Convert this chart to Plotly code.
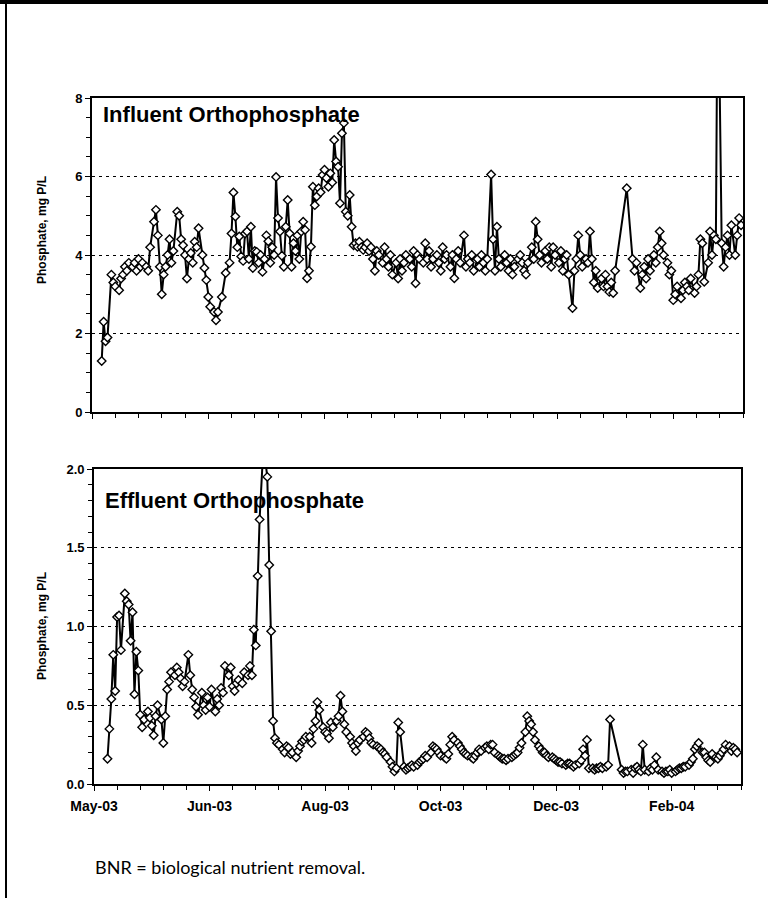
import plotly.graph_objects as go
import pandas as pd

N = None
START_DATE = "2003-05-01"
AXIS_END = "2004-04-01"

# Influent orthophosphate (mg P/L): one value per calendar day from START_DATE, 10 per row (None = no sample)
influent_rows = [
    [N, N, N, N, N, 1.3, 2.3, 1.8, 1.9, N],
    [3.5, 3.3, 3.2, N, 3.1, 3.4, 3.5, 3.7, 3.6, 3.8],
    [N, 3.7, 3.8, 3.6, 3.9, 3.7, 3.8, N, 3.7, 3.6],
    [4.2, N, 4.85, 5.15, 4.5, 3.7, 3.0, 3.5, 3.7, 4.0],
    [4.4, 3.8, 4.1, N, 5.1, 5.0, 4.4, 4.25, 4.0, 3.4],
    [3.9, 4.05, 3.8, 4.34, 4.2, 4.68, N, 4.0, 3.67, 3.36],
    [2.93, 2.68, N, 2.55, 2.34, 2.55, N, 2.93, N, 3.54],
    [N, 3.8, 4.55, 5.59, 4.98, 4.2, 4.47, 3.96, 3.85, 4.55],
    [4.6, 3.9, 4.72, 3.67, 4.1, 4.08, 3.8, 4.0, 3.57, 3.9],
    [4.5, 4.35, 3.8, 4.2, 4.0, 5.99, 4.94, 4.6, 3.98, 3.7],
    [4.72, 5.4, 4.55, 3.7, 4.3, 4.1, 4.5, 3.9, 4.6, 4.85],
    [4.64, 3.41, 3.6, 4.21, 5.74, 5.27, 5.49, 5.7, 5.6, 6.04],
    [6.17, 5.96, 5.74, 6.08, 5.85, 6.93, 6.38, 6.25, 5.32, 7.1],
    [7.36, 5.1, 5.0, 5.53, 4.72, 4.25, 4.3, 4.21, 4.34, 4.2],
    [4.13, 4.2, 4.3, 4.1, 4.2, 3.9, 3.6, 4.1, 4.0, N],
    [3.8, 4.2, 3.9, 3.7, 4.0, 3.5, N, 3.8, 3.4, 3.9],
    [3.6, 3.8, 4.0, N, 3.9, 3.7, 4.1, 3.28, 4.0, 3.9],
    [N, 3.8, 4.3, 3.9, 4.1, 3.7, 3.9, N, 4.0, 3.8],
    [3.6, 4.2, 3.9, 4.0, N, 3.7, 4.0, 3.41, 3.9, 4.1],
    [3.8, N, 4.5, 3.7, 3.9, 3.8, 4.0, 3.6, N, 3.9],
    [3.7, 4.0, 3.8, 3.6, 3.9, N, 6.05, 4.4, 3.6, 4.72],
    [3.9, 3.7, N, 4.0, 3.8, 3.6, 3.9, 3.5, 3.7, N],
    [3.9, 4.0, 3.8, 3.6, 3.5, 3.8, N, 4.2, 3.9, 4.85],
    [4.4, 4.0, 3.8, N, 4.1, 3.9, 4.2, 3.7, 4.2, 4.0],
    [N, 3.8, 4.1, 3.6, 3.9, 4.0, 3.5, N, 2.65, 3.6],
    [3.9, 4.5, 4.0, 3.7, N, 3.9, 3.8, 4.6, 3.9, 3.3],
    [3.6, 3.16, N, 3.4, 3.2, 3.5, 3.2, 3.06, 3.3, 3.03],
    [3.6, N, N, N, N, N, 5.7, N, N, 3.9],
    [3.6, 3.8, N, 3.16, 3.5, 3.7, 3.4, 3.9, 3.6, N],
    [4.0, 3.8, 4.2, 4.6, 4.3, 4.0, N, 3.8, 3.5, 3.6],
    [2.85, 3.0, 3.2, N, 2.9, 3.1, 3.3, 3.2, 3.1, 3.4],
    [N, 3.03, 3.2, 3.5, 4.4, 4.3, 3.32, N, 3.8, 4.6],
    [4.0, 4.5, 4.4, 12.0, N, 4.3, 3.7, 4.2, 4.5, 4.0],
    [4.76, N, 4.0, 4.5, 4.94, 4.76],
]

# Effluent orthophosphate (mg P/L): same daily layout
effluent_rows = [
    [N, N, N, N, N, N, N, 0.16, 0.35, 0.54],
    [0.82, 0.59, 1.06, 1.07, 0.85, N, 1.21, 1.16, 1.14, 0.91],
    [1.09, 0.57, 0.84, 0.72, 0.44, 0.36, 0.41, N, 0.46, 0.42],
    [0.37, 0.31, 0.43, 0.5, N, 0.41, 0.26, 0.43, 0.6, 0.65],
    [0.71, N, 0.69, 0.74, 0.71, 0.67, 0.62, 0.65, N, 0.82],
    [0.69, 0.6, 0.55, 0.49, 0.44, N, 0.58, 0.5, 0.47, 0.55],
    [0.49, 0.6, N, 0.46, 0.54, 0.5, 0.61, 0.58, 0.75, N],
    [0.69, 0.74, 0.62, 0.59, 0.64, 0.66, N, 0.64, 0.71, N],
    [0.69, 0.75, 0.69, 0.98, 0.88, 1.32, 1.68, N, 2.15, N],
    [1.95, 1.39, 0.97, 0.40, 0.29, 0.26, 0.25, N, 0.22, 0.2],
    [0.24, 0.23, 0.19, 0.2, N, 0.17, 0.21, 0.24, 0.27, 0.28],
    [0.3, N, 0.3, 0.26, 0.35, 0.4, 0.52, 0.47, N, 0.36],
    [0.33, 0.32, 0.29, 0.39, 0.36, N, 0.4, 0.43, 0.56, 0.46],
    [0.38, 0.33, N, 0.3, 0.26, 0.24, 0.21, 0.26, 0.28, N],
    [0.3, 0.33, 0.32, 0.29, 0.26, 0.25, N, 0.24, 0.23, 0.22],
    [0.2, 0.19, 0.17, N, 0.14, 0.11, 0.08, 0.1, 0.39, 0.33],
    [N, 0.11, 0.09, 0.1, 0.11, 0.12, 0.11, N, 0.12, 0.14],
    [0.15, 0.16, 0.18, 0.17, N, 0.2, 0.24, 0.23, 0.22, 0.2],
    [0.18, N, 0.17, 0.16, 0.19, 0.25, 0.3, 0.28, N, 0.26],
    [0.24, 0.22, 0.2, 0.19, 0.18, N, 0.17, 0.16, 0.18, 0.2],
    [0.22, 0.21, N, 0.23, 0.24, 0.22, 0.25, 0.25, 0.2, N],
    [0.18, 0.17, 0.16, 0.16, 0.15, 0.16, N, 0.17, 0.18, 0.19],
    [0.2, 0.23, 0.26, N, 0.33, 0.43, 0.4, 0.38, 0.33, 0.28],
    [N, 0.24, 0.22, 0.2, 0.2, 0.18, 0.17, N, 0.17, 0.16],
    [0.15, 0.14, 0.14, 0.13, N, 0.12, 0.13, 0.13, 0.12, 0.11],
    [0.12, N, 0.13, 0.15, 0.22, 0.18, 0.28, 0.1, N, 0.1],
    [0.09, 0.1, 0.1, 0.11, 0.1, N, 0.11, 0.12, 0.41, N],
    [N, N, N, N, 0.09, 0.07, 0.08, 0.08, N, 0.09],
    [0.07, 0.1, 0.11, 0.09, 0.08, 0.25, 0.09, N, 0.08, 0.1],
    [0.09, 0.12, 0.17, 0.09, N, 0.08, 0.07, 0.08, 0.08, 0.09],
    [0.07, N, 0.08, 0.09, 0.1, 0.1, 0.11, 0.11, N, 0.12],
    [0.14, 0.16, 0.22, 0.24, 0.26, N, 0.2, 0.2, 0.17, 0.15],
    [0.14, 0.19, N, 0.17, 0.16, 0.18, 0.2, 0.22, 0.25, N],
    [0.24, 0.21, 0.23, 0.22, 0.2],
]

x_tick_dates = ["2003-05-01", "2003-06-30", "2003-08-29", "2003-10-28", "2003-12-27", "2004-02-25"]
x_tick_labels = ["May-03", "Jun-03", "Aug-03", "Oct-03", "Dec-03", "Feb-04"]
influent_yticks = [0, 2, 4, 6, 8]
influent_yticklabels = ["0", "2", "4", "6", "8"]
effluent_yticks = [0.0, 0.5, 1.0, 1.5, 2.0]
effluent_yticklabels = ["0.0", "0.5", "1.0", "1.5", "2.0"]

influent_title = "Influent Orthophosphate"
effluent_title = "Effluent Orthophosphate"
y_title = "Phosphate, mg P/L"
footnote = "BNR = biological nutrient removal."


def to_series(rows):
    for r in rows[:-1]:
        assert len(r) == 10, r
    vals = [v for r in rows for v in r]
    dates = pd.date_range(START_DATE, periods=len(vals), freq="D")
    xs = [d for d, v in zip(dates, vals) if v is not None]
    ys = [v for v in vals if v is not None]
    return xs, ys


inf_x, inf_y = to_series(influent_rows)
eff_x, eff_y = to_series(effluent_rows)

W, H = 768, 898
FONT = "Liberation Sans, Arial, sans-serif"

line_style = dict(color="black", width=2)
marker_style = dict(symbol="diamond", size=6.5, color="white", line=dict(color="black", width=1.4))

fig = go.Figure()
fig.add_trace(go.Scatter(x=inf_x, y=inf_y, mode="lines+markers", line=line_style,
                         marker=marker_style, xaxis="x", yaxis="y", showlegend=False))
fig.add_trace(go.Scatter(x=eff_x, y=eff_y, mode="lines+markers", line=line_style,
                         marker=marker_style, xaxis="x2", yaxis="y2", showlegend=False))

DAY_MS = 86400000
common_x = dict(
    type="date", range=[START_DATE, AXIS_END], tickmode="array", tickvals=x_tick_dates,
    showline=True, linecolor="black", linewidth=1.8, mirror=True,
    ticks="outside", ticklen=5, tickwidth=1.2, tickcolor="black",
    minor=dict(tick0=START_DATE, dtick=12 * DAY_MS, ticks="outside", ticklen=4,
               tickwidth=1, tickcolor="black"),
    showgrid=False, zeroline=False, automargin=False,
)
common_y = dict(
    showline=True, linecolor="black", linewidth=1.8, mirror=True,
    ticks="outside", ticklen=5, tickwidth=1.2, tickcolor="black",
    showgrid=True, gridcolor="black", gridwidth=1.4, griddash="3px,4px",
    zeroline=False, automargin=False, tickmode="array",
    tickfont=dict(family=FONT, size=13, color="black", weight="bold"),
)

fig.update_layout(
    width=W, height=H,
    margin=dict(l=0, r=0, t=0, b=0),
    paper_bgcolor="white", plot_bgcolor="white",
    xaxis=dict(common_x, domain=[92 / W, 743 / W], anchor="y",
               ticktext=["" for _ in x_tick_labels]),
    xaxis2=dict(common_x, domain=[94 / W, 741 / W], anchor="y2",
                ticktext=x_tick_labels, ticklabelstandoff=3,
                tickfont=dict(family=FONT, size=14, color="black", weight="bold")),
    yaxis=dict(common_y, domain=[1 - 412 / H, 1 - 98 / H], anchor="x", range=[0, 8],
               tickvals=influent_yticks, ticktext=influent_yticklabels,
               minor=dict(dtick=0.5, ticks="outside", ticklen=4, tickwidth=1, tickcolor="black")),
    yaxis2=dict(common_y, domain=[1 - 784 / H, 1 - 469 / H], anchor="x2", range=[0, 2],
                tickvals=effluent_yticks, ticktext=effluent_yticklabels,
                minor=dict(dtick=0.1, ticks="outside", ticklen=4, tickwidth=1, tickcolor="black")),
)

title_font = dict(family=FONT, size=22, color="black", weight="bold")
fig.add_annotation(text=influent_title, xref="paper", yref="paper", x=101 / W, y=1 - 115 / H,
                   xanchor="left", yanchor="middle", showarrow=False, font=title_font)
fig.add_annotation(text=effluent_title, xref="paper", yref="paper", x=103 / W, y=1 - 500 / H,
                   xanchor="left", yanchor="middle", showarrow=False, font=title_font)
ytitle_font = dict(family=FONT, size=12, color="black", weight="bold")
for yc in (230, 626):
    fig.add_annotation(text=y_title, xref="paper", yref="paper", x=42 / W, y=1 - yc / H,
                       xanchor="center", yanchor="middle", textangle=-90, showarrow=False,
                       font=ytitle_font)
fig.add_annotation(text=footnote, xref="paper", yref="paper", x=93 / W, y=1 - 867 / H,
                   xanchor="left", yanchor="middle", showarrow=False,
                   font=dict(family="Lato, Noto Sans, sans-serif", size=18, color="black"))

# page frame: thick rule along the top and a thin rule on the left edge
fig.add_shape(type="rect", xref="paper", yref="paper", x0=0, x1=1, y0=1 - 4 / H, y1=1,
              fillcolor="black", line=dict(width=0))
fig.add_shape(type="line", xref="paper", yref="paper", x0=6 / W, x1=6 / W, y0=0, y1=1,
              line=dict(color="black", width=2))

fig.write_html("out.html", config={"displayModeBar": False},
               post_script="document.body.style.margin='0';document.body.style.overflow='hidden';")
